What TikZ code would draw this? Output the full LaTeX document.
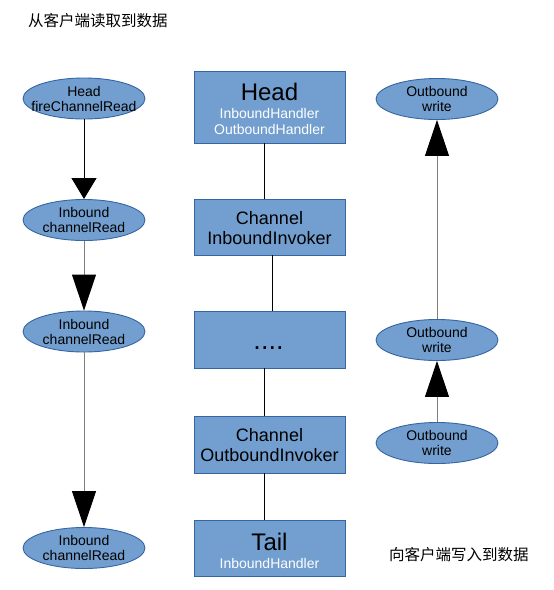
\documentclass[tikz,border=0pt]{standalone}
\usepackage{fontspec}
\setmainfont{Liberation Sans}
\newfontfamily\cjk{Noto Sans CJK SC}
\usetikzlibrary{shapes.geometric,arrows.meta}
\definecolor{boxfill}{HTML}{729FCF}
\definecolor{boxline}{HTML}{3465A4}
\definecolor{linegray}{HTML}{7F7F7F}
\tikzset{
  x=1pt, y=-1pt,
  oval/.style={ellipse, draw=boxline, fill=boxfill, line width=0.9pt, minimum width=122pt, minimum height=41pt, inner sep=0pt, align=center, font=\fontsize{14}{15}\selectfont},
  blk/.style={rectangle, draw=boxline, fill=boxfill, line width=0.9pt, minimum width=151pt, inner sep=0pt},
  bigtxt/.style={anchor=base, inner sep=0pt, font=\fontsize{24}{24}\selectfont},
  midtxt/.style={anchor=base, inner sep=0pt, font=\fontsize{18}{18}\selectfont},
  subtxt/.style={anchor=base, inner sep=0pt, text=white, font=\fontsize{14}{14}\selectfont},
  link/.style={line width=0.9pt},
  flowshort/.style={line width=1pt, -{Triangle[length=21pt,width=25pt,black]}},
  flowlong/.style={line width=1pt, draw=linegray, -{Triangle[length=36pt,width=24pt,black]}},
  captxt/.style={anchor=west, inner sep=0pt, font=\cjk\fontsize{15.5}{15.5}\selectfont}
}
\begin{document}
\begin{tikzpicture}
\useasboundingbox (0,0) rectangle (554,590);
% titles
\node[captxt] (t1) at (28,21) {从客户端读取到数据};
\node[captxt] (t2) at (389,555) {向客户端写入到数据};
% left ovals
\node[oval] (h) at (84,98.5) {Head\\\makebox[0pt]{fireChannelRead}};
\node[oval] (i1) at (84,220) {Inbound\\channelRead};
\node[oval] (i2) at (84,331.5) {Inbound\\channelRead};
\node[oval] (i3) at (84,548) {Inbound\\channelRead};
% right ovals
\node[oval] (o1) at (437,99) {Outbound\\write};
\node[oval] (o2) at (437,340) {Outbound\\write};
\node[oval] (o3) at (437,443) {Outbound\\write};
% boxes
\node[blk, minimum height=72pt] (bh) at (269.5,107) {};
\node[blk, minimum height=56pt] (bi) at (269.5,227) {};
\node[blk, minimum height=57pt] (bd) at (269.5,339.5) {};
\node[blk, minimum height=57pt] (bo) at (269.5,444.5) {};
\node[blk, minimum height=56pt] (bt) at (269.5,548) {};
% box texts
\node[bigtxt] (bh1) at (269.5,100.7) {Head};
\node[subtxt] (bh2) at (269.5,118.3) {InboundHandler};
\node[subtxt] (bh3) at (269.5,134) {OutboundHandler};
\node[midtxt] (bi1) at (269.5,224.3) {Channel};
\node[midtxt] (bi2) at (269.5,244.3) {InboundInvoker};
\node[anchor=base, inner sep=0pt, font=\fontsize{27}{27}\selectfont] (bd1) at (268.5,349) {....};
\node[midtxt] (bo1) at (269.5,441.5) {Channel};
\node[midtxt] (bo2) at (269.5,461.5) {OutboundInvoker};
\node[bigtxt] (bt1) at (269.5,550.5) {Tail};
\node[subtxt] (bt2) at (269.5,568.5) {InboundHandler};
% connectors between boxes
\draw[link] ([xshift=-5.5pt]bh.south) -- ([xshift=-5.5pt]bi.north);
\draw[link] ([xshift=2.5pt]bi.south) -- ([xshift=2.5pt]bd.north);
\draw[link] ([xshift=-5.5pt]bd.south) -- ([xshift=-5.5pt]bo.north);
\draw[link] ([xshift=-5.5pt]bo.south) -- ([xshift=-5.5pt]bt.north);
% left flow
\draw[flowshort] (h.south) -- (i1.north);
\draw[flowlong] (i1.south) -- (i2.north);
\draw[flowlong] (i2.south) -- (i3.north);
% right flow
\draw[flowlong] (o3.north) -- (o2.south);
\draw[flowlong] (o2.north) -- (o1.south);
\end{tikzpicture}
\end{document}
